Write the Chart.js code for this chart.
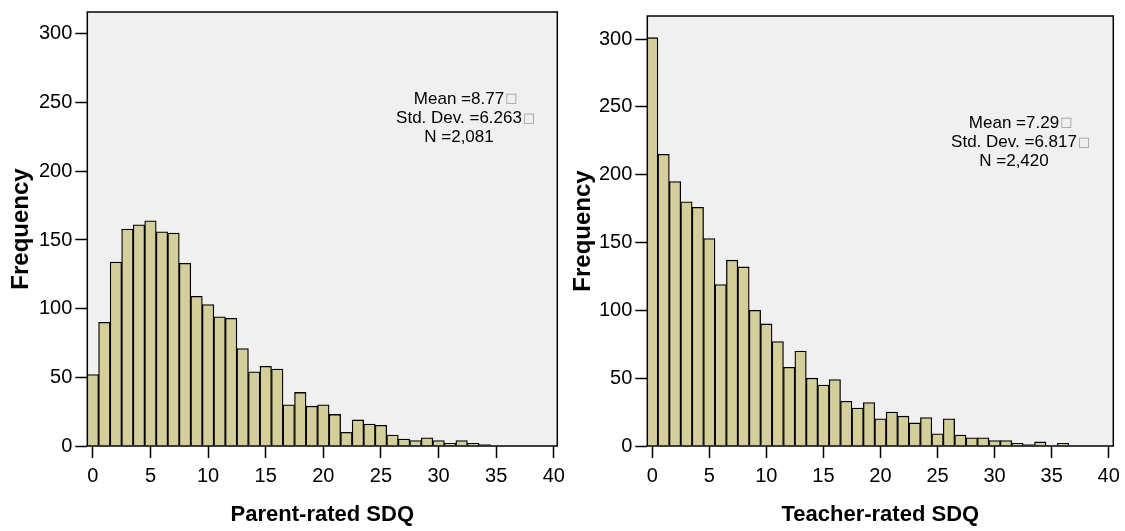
<!DOCTYPE html>
<html>
<head>
<meta charset="utf-8">
<script src="https://cdn.jsdelivr.net/npm/chart.js@4.4.1/dist/chart.umd.min.js"></script>
<style>
  html, body { margin: 0; padding: 0; background: #fff; }
  canvas { position: absolute; left: 0; top: 0; }
</style>
</head>
<body>
<canvas id="parentChart" width="1125" height="531"></canvas>
<canvas id="teacherChart" width="1125" height="531"></canvas>
<script>
// SDQ score bins (0..40)
const scores = [0,1,2,3,4,5,6,7,8,9,10,11,12,13,14,15,16,17,18,19,20,
                21,22,23,24,25,26,27,28,29,30,31,32,33,34,35,36,37,38,39,40];

// frequencies
const parentCounts = [52,90,134,158,161,164,156,155,133,109,103,94,93,71,54,58,56,30,39,29,30,
                      23,10,19,16,15,8,5,4,6,4,2,4,2,1,0,0,0,0,0,0];
const teacherCounts = [301,215,195,180,176,153,119,137,132,100,90,77,58,70,50,45,49,33,28,32,20,
                       25,22,17,21,9,20,8,6,6,4,4,2,1,3,0,2,0,0,0,0];

// axis ticks
const xTicks = [0,5,10,15,20,25,30,35,40];
const yTicks = [0,50,100,150,200,250,300];

// stats boxes
const parentStats = ['Mean =8.77', 'Std. Dev. =6.263', 'N =2,081'];
const teacherStats = ['Mean =7.29', 'Std. Dev. =6.817', 'N =2,420'];

Chart.defaults.font.family = '"Liberation Sans", Arial, Helvetica, sans-serif';
Chart.defaults.color = '#000';

//grey plot background, black frame and the stats text
const framePlugin = {
    id: 'frame',
    beforeDraw(chart){
        const {ctx, chartArea: a} = chart;
        ctx.save();
        ctx.fillStyle = '#f0f0f0';
        ctx.fillRect(a.left, a.top, a.width, a.height);
        ctx.restore();
    },
    afterDatasetsDraw(chart, args, opts){
        const {ctx, chartArea: a} = chart;
        ctx.save();
        ctx.strokeStyle = '#000';
        ctx.lineWidth = 1.5;
        ctx.strokeRect(a.left, a.top, a.width, a.height);

        ctx.font = '17px "Liberation Sans", Arial, sans-serif';
        ctx.textAlign = 'center';
        ctx.textBaseline = 'middle';
        opts.lines.forEach((txt, i) => {
            const y = opts.y + i * 19.3;
            ctx.fillStyle = '#000';
            ctx.fillText(txt, opts.x, y);
            if(i < 2){
                const w = ctx.measureText(txt).width;
                ctx.fillStyle = '#999';
                ctx.textAlign = 'left';
                ctx.font = '13px "DejaVu Sans", sans-serif';
                ctx.fillText('\u25A1', opts.x + w / 2 + 1, y);
                ctx.font = '17px "Liberation Sans", Arial, sans-serif';
                ctx.textAlign = 'center';
            }
        });
        ctx.restore();
    }
};

function makeChart(id, counts, stats, xTitle, box){
    const tickGrid = (len) => ({
        offset: false,
        drawOnChartArea: false,
        drawTicks: true,
        tickLength: len,
        tickWidth: 1.5,
        tickColor: '#000'
    });
    return new Chart(document.getElementById(id), {
        type: 'bar',
        data: {
            datasets: [{
                data: scores.map((s, i) => ({x: s, y: counts[i]})),
                backgroundColor: '#d4cf9a',
                borderColor: '#000',
                borderWidth: 1.3,
                barPercentage: 1,
                categoryPercentage: 1
            }]
        },
        options: {
            responsive: false,
            devicePixelRatio: 1,
            animation: false,
            layout: {padding: {left: box.padLeft, right: box.padRight, top: box.padTop, bottom: 0}},
            plugins: {
                legend: {display: false},
                tooltip: {enabled: false},
                frame: {lines: stats, x: box.statsX, y: box.statsY}
            },
            scales: {
                x: {
                    type: 'linear',
                    min: box.xMin,
                    max: box.xMax,
                    offset: false,
                    afterBuildTicks: s => { s.ticks = xTicks.map(v => ({value: v})); },
                    afterFit: s => { s.height = 85; s.paddingLeft = 0; s.paddingRight = 0; },
                    grid: tickGrid(12),
                    border: {display: false},
                    ticks: {font: {size: 20}, color: '#000', padding: 6, maxRotation: 0, autoSkip: false},
                    title: {display: true, text: xTitle, color: '#000',
                            font: {size: 22, weight: 'bold'}, padding: {top: 0, bottom: 3}}
                },
                y: {
                    min: 0,
                    max: box.yMax,
                    afterBuildTicks: s => { s.ticks = yTicks.map(v => ({value: v})); },
                    afterFit: s => { s.width = box.yWidth; s.paddingTop = 0; s.paddingBottom = 0; },
                    grid: tickGrid(12),
                    border: {display: false},
                    ticks: {font: {size: 20}, color: '#000', padding: 3, autoSkip: false},
                    title: {display: true, text: 'Frequency', color: '#000',
                            font: {size: 24, weight: 'bold'}, padding: {top: 7, bottom: 0}}
                }
            }
        },
        plugins: [framePlugin]
    });
}

makeChart('parentChart', parentCounts, parentStats, 'Parent-rated SDQ', {
    padLeft: 0, padRight: 567.7, padTop: 12, yWidth: 87.3,
    xMin: -0.48, xMax: 40.3, yMax: 316, statsX: 459, statsY: 99
});

makeChart('teacherChart', teacherCounts, teacherStats, 'Teacher-rated SDQ', {
    padLeft: 562, padRight: 11.7, padTop: 16, yWidth: 85.3,
    xMin: -0.43, xMax: 40.4, yMax: 317, statsX: 1014, statsY: 123
});
</script>
</body>
</html>
